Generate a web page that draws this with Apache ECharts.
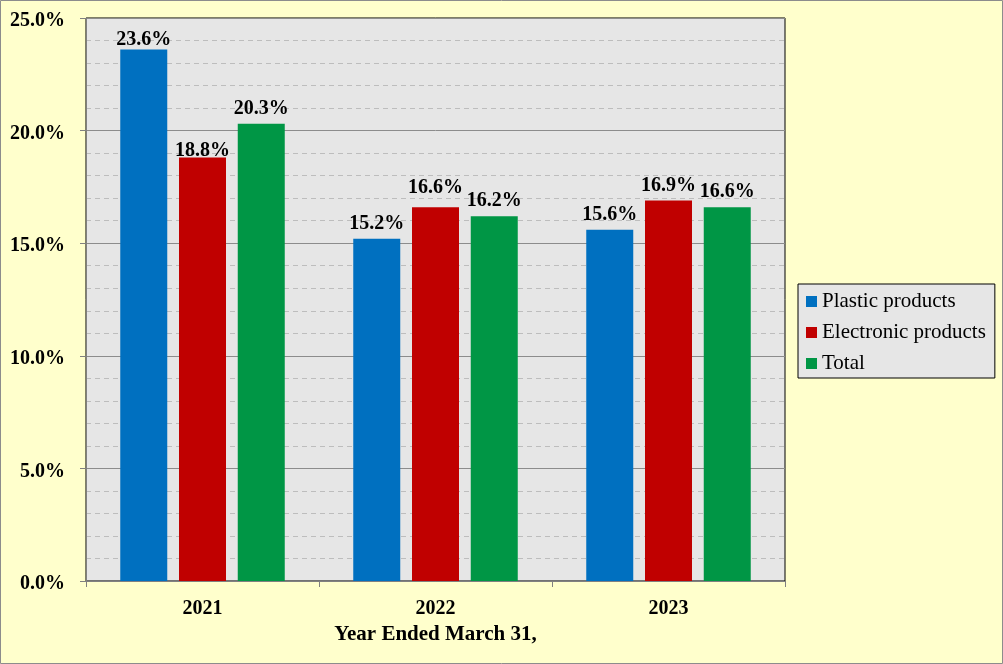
<!DOCTYPE html>
<html>
<head>
<meta charset="utf-8">
<script src="https://cdn.jsdelivr.net/npm/echarts@6/dist/echarts.min.js"></script>
<style>
html,body{margin:0;padding:0;background:#FFFFCC;}
#c{width:1003px;height:664px;}
</style>
</head>
<body>
<div id="c"></div>
<script>
const categories = ['2021', '2022', '2023'];
const plastic = [23.6, 15.2, 15.6];
const electronic = [18.8, 16.6, 16.9];
const total = [20.3, 16.2, 16.6];
const seriesNames = ['Plastic products', 'Electronic products', 'Total'];
const axisTitle = 'Year Ended March 31,';

const FONT = '"Liberation Serif", "Times New Roman", serif';
const chart = echarts.init(document.getElementById('c'));

// manual label nudges (px, positive = down) matching the reference's hand-placed labels
const labelNudge = { 0: [5, 0, 0], 1: [8, -4, 0], 2: [0, 0, 0] };

const boldText = { fontFamily: FONT, fontWeight: 'bold', fontSize: 20, color: '#000' };

function mk(idx, data, color) {
  return {
    name: seriesNames[idx], type: 'bar', barWidth: 47, barGap: '25%',
    itemStyle: { color },
    data: data.map((v, i) => ({
      value: v,
      label: { offset: [0, labelNudge[idx][i]] }
    })),
    label: Object.assign({
      show: true, position: 'top', distance: 5,
      formatter: p => p.value.toFixed(1) + '%'
    }, boldText)
  };
}

chart.setOption({
  backgroundColor: '#FFFFCC',
  animation: false,
  graphic: [{
    type: 'rect', shape: { x: 0.5, y: 0.5, width: 1002, height: 663 },
    style: { fill: 'none', stroke: '#8C8C8C', lineWidth: 1 }, z: 100
  }],
  grid: {
    left: 86, top: 18, right: 218, bottom: 83,
    show: true, backgroundColor: '#E6E6E6', borderColor: '#000', borderWidth: 1
  },
  legend: {
    orient: 'vertical', left: 798, top: 284,
    backgroundColor: '#E6E6E6', borderColor: '#000', borderWidth: 1,
    padding: [7, 9, 4, 8], itemGap: 10, itemWidth: 11, itemHeight: 11,
    icon: 'rect',
    textStyle: { fontFamily: FONT, fontSize: 21, color: '#000' },
    data: seriesNames
  },
  xAxis: {
    type: 'category', data: categories,
    name: axisTitle, nameLocation: 'middle', nameGap: 43,
    nameTextStyle: { fontFamily: FONT, fontWeight: 'bold', fontSize: 21, color: '#000' },
    axisLine: { lineStyle: { color: '#808080', width: 1 } },
    axisTick: { show: true, length: 6, lineStyle: { color: '#808080' } },
    axisLabel: Object.assign({ margin: 18 }, boldText)
  },
  yAxis: {
    type: 'value', min: 0, max: 25, interval: 5,
    axisLine: { show: true, lineStyle: { color: '#808080', width: 1 } },
    axisTick: { show: true, length: 6, lineStyle: { color: '#808080' } },
    axisLabel: {
      margin: 21,
      formatter: v => '{a|' + v.toFixed(1) + '%}',
      rich: { a: Object.assign({ padding: [6, 0, 0, 0] }, boldText) }
    },
    splitLine: { show: true, lineStyle: { color: '#8C8C8C', width: 1 } },
    minorTick: { show: false, splitNumber: 5 },
    minorSplitLine: { show: true, lineStyle: { color: '#BDBDBD', width: 1, type: [5, 4] } }
  },
  series: [
    mk(0, plastic, '#0070C0'),
    mk(1, electronic, '#C00000'),
    mk(2, total, '#009645')
  ]
});
</script>
</body>
</html>
